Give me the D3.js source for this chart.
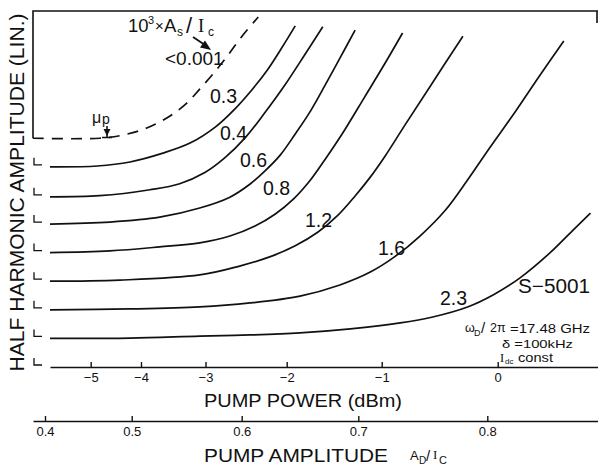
<!DOCTYPE html>
<html>
<head>
<meta charset="utf-8">
<script src="https://cdn.jsdelivr.net/npm/d3@7"></script>
<style>
  body { margin: 0; background: #fff; }
  svg { display: block; font-family: "Liberation Sans", Arial, Helvetica, sans-serif; }
</style>
</head>
<body>
<svg id="chart" width="598" height="471"></svg>
<script>
// --- data ---
const powerTicks = [-5, -4, -3, -2, -1, 0];              // dBm
const amplitudeTicks = [0.4, 0.5, 0.6, 0.7, 0.8];        // A_D / I_C
const curveNames = ["<0.001", "0.3", "0.4", "0.6", "0.8", "1.2", "1.6", "2.3"];
const curveLevels = [8, 7, 5.95, 5, 4, 3, 2, 1];         // zero line of each trace (stacked, lin. units)

// [pump power dBm, half harmonic amplitude above its own zero]
const seriesBelow0001 = [[-6.15, 0], [-4.82, 0], [-4.36, 0.11], [-3.91, 0.36], [-3.55, 0.78], [-3.29, 1.23], [-3.09, 1.72], [-2.91, 2.24], [-2.74, 2.84], [-2.55, 3.57], [-2.35, 4.24]];
const series03 = [[-5.81, 0], [-4.87, 0.03], [-4.22, 0.17], [-3.66, 0.48], [-3.24, 0.83], [-2.88, 1.39], [-2.64, 2.02], [-2.43, 2.69], [-2.24, 3.38], [-2.07, 4.12], [-1.91, 4.93]];
const series04 = [[-5.81, 0], [-4.82, 0.04], [-3.86, 0.25], [-3.40, 0.46], [-3.01, 0.85], [-2.76, 1.37], [-2.51, 2.07], [-2.27, 2.94], [-2.02, 3.92], [-1.81, 4.97], [-1.62, 5.95]];
const series06 = [[-5.81, 0], [-4.62, 0.07], [-3.71, 0.24], [-3.09, 0.56], [-2.70, 0.94], [-2.45, 1.40], [-2.27, 1.85], [-2.08, 2.41], [-1.91, 3.15], [-1.75, 3.95], [-1.60, 4.83], [-1.44, 5.80], [-1.28, 6.78]];
const series08 = [[-5.81, 0], [-4.62, 0.06], [-3.71, 0.20], [-3.09, 0.34], [-2.70, 0.58], [-2.39, 0.93], [-2.14, 1.35], [-1.93, 1.87], [-1.75, 2.54], [-1.60, 3.24], [-1.39, 4.29], [-1.18, 5.44], [-0.97, 6.63], [-0.82, 7.68]];
const series12 = [[-5.81, 0], [-4.42, 0.04], [-3.09, 0.22], [-2.58, 0.53], [-2.21, 0.85], [-1.91, 1.24], [-1.67, 1.72], [-1.46, 2.31], [-1.28, 2.98], [-1.12, 3.64], [-0.97, 4.38], [-0.80, 5.46], [-0.58, 6.83], [-0.30, 8.57]];
const series16 = [[-5.81, 0], [-4.22, 0.03], [-3.09, 0.10], [-2.45, 0.24], [-1.86, 0.48], [-1.44, 0.87], [-1.12, 1.32], [-0.89, 1.85], [-0.67, 2.58], [-0.45, 3.49], [-0.26, 4.54], [-0.07, 5.66], [0.15, 6.92], [0.36, 8.18], [0.57, 9.40]];
const series23 = [[-5.81, 0], [-4.22, 0.01], [-3.09, 0.08], [-2.45, 0.12], [-1.86, 0.19], [-1.33, 0.33], [-0.84, 0.54], [-0.56, 0.75], [-0.26, 1.10], [-0.04, 1.52], [0.19, 2.11], [0.45, 2.99], [0.65, 3.79], [0.80, 4.38]];

const allSeries = [seriesBelow0001, series03, series04, series06, series08, series12, series16, series23];

// --- scales (the power axis of the original is not linear, so piecewise) ---
const svg = d3.select("#chart");
const x = d3.scaleLinear()
  .domain([-5.81, -5, -4, -3, -2, -1, 0, 0.865])
  .range([50, 90.7, 141, 205.5, 286.7, 381.7, 497.7, 598]);
const xAmp = d3.scaleLinear()
  .domain([0.386, 0.4, 0.5, 0.6, 0.7, 0.8, 0.886])
  .range([33, 45, 131.7, 241.7, 358.3, 487.3, 598]);
const y = d3.scaleLinear().domain([0, 12.45]).range([367, 11]);

const ink = "#111";

// frame: top line, left side down to the dashed trace, small stub at the right
svg.append("path")
  .attr("d", `M33,${y(8)}V${y(12.45)}H598M597,${y(12.45)}v12`)
  .attr("fill", "none").attr("stroke", ink).attr("stroke-width", 1.6);

// L-shaped zero markers on the left
svg.append("g").selectAll("path")
  .data(curveLevels.slice(1).concat([0]))
  .join("path")
  .attr("d", d => `M34,${y(d) - 9}V${y(d) - 2}H42`)
  .attr("fill", "none").attr("stroke", ink).attr("stroke-width", 1.3);

// traces
const line = d3.line().curve(d3.curveCatmullRom.alpha(0.5));
svg.append("g").selectAll("path")
  .data(allSeries)
  .join("path")
  .attr("d", (s, i) => line(s.map(p => [x(p[0]), y(curveLevels[i] + p[1])])))
  .attr("fill", "none")
  .attr("stroke", ink)
  .attr("stroke-width", 1.7)
  .attr("stroke-dasharray", (s, i) => i === 0 ? "11,8" : null);

// --- pump power axis ---
const powerAxis = d3.axisBottom(x)
  .tickValues(powerTicks)
  .tickSize(-5).tickSizeOuter(0).tickPadding(6)
  .tickFormat(d => d < 0 ? "\u2212" + Math.abs(d) : d);
const gp = svg.append("g").attr("transform", `translate(0,${y(0)})`).call(powerAxis);
gp.select(".domain").attr("stroke", ink).attr("stroke-width", 1.6);
gp.selectAll(".tick line").attr("stroke", ink).attr("stroke-width", 1.4);
gp.selectAll(".tick text").attr("fill", ink).attr("font-size", 13).attr("font-family", null);

svg.append("text")
  .attr("x", 204).attr("y", 407)
  .attr("font-size", 19).attr("fill", ink)
  .attr("textLength", 198).attr("lengthAdjust", "spacingAndGlyphs")
  .text("PUMP  POWER (dBm)");

// --- pump amplitude axis ---
const ampAxis = d3.axisBottom(xAmp)
  .tickValues(amplitudeTicks)
  .tickSize(-5).tickSizeOuter(0).tickPadding(6)
  .tickFormat(d3.format(".1f"));
const ga = svg.append("g").attr("transform", "translate(0,421)").call(ampAxis);
ga.select(".domain").attr("stroke", ink).attr("stroke-width", 1.6);
ga.selectAll(".tick line").attr("stroke", ink).attr("stroke-width", 1.4);
ga.selectAll(".tick text").attr("fill", ink).attr("font-size", 13).attr("font-family", null);

svg.append("text")
  .attr("x", 204).attr("y", 462)
  .attr("font-size", 19).attr("fill", ink)
  .attr("textLength", 184).attr("lengthAdjust", "spacingAndGlyphs")
  .text("PUMP  AMPLITUDE");

const adIc = svg.append("text").attr("fill", ink).attr("font-size", 13);
adIc.append("tspan").attr("x", 410).attr("y", 460).text("A");
adIc.append("tspan").attr("x", 419).attr("y", 464).attr("font-size", 10).text("D");
adIc.append("tspan").attr("x", 426).attr("y", 461).attr("font-size", 15).text("/");
adIc.append("tspan").attr("x", 433).attr("y", 459).attr("font-family", "Liberation Serif, serif").text("I");
adIc.append("tspan").attr("x", 439).attr("y", 464).attr("font-size", 11).text("C");

// --- y title ---
svg.append("text")
  .attr("transform", "translate(24,192.5) rotate(-90)")
  .attr("text-anchor", "middle")
  .attr("font-size", 21).attr("fill", ink)
  .attr("textLength", 358).attr("lengthAdjust", "spacingAndGlyphs")
  .text("HALF HARMONIC AMPLITUDE (LIN.)");

// --- curve labels ---
const labelSpots = [[165, 65], [210, 103], [220, 140], [240, 167], [263, 195], [305, 227], [378, 255], [440, 305]];
svg.append("g").selectAll("text")
  .data(curveNames)
  .join("text")
  .attr("x", (d, i) => labelSpots[i][0])
  .attr("y", (d, i) => labelSpots[i][1])
  .attr("font-size", (d, i) => i === 0 ? 19 : 19.5)
  .attr("fill", ink)
  .text(d => d);

// 10^3 x A_s / I_c heading with its arrow
const head = svg.append("text").attr("fill", ink).attr("font-size", 18.5);
head.append("tspan").attr("x", 128).attr("y", 32).text("10");
head.append("tspan").attr("x", 148).attr("y", 24).attr("font-size", 11).text("3");
head.append("tspan").attr("x", 155).attr("y", 31).attr("font-size", 15).text("\u00d7");
head.append("tspan").attr("x", 164).attr("y", 32).text("A");
head.append("tspan").attr("x", 177).attr("y", 36).attr("font-size", 12).text("s");
head.append("tspan").attr("x", 186).attr("y", 33).attr("font-size", 22).text("/");
head.append("tspan").attr("x", 198).attr("y", 32).attr("font-family", "Liberation Serif, serif").text("I");
head.append("tspan").attr("x", 208).attr("y", 36).attr("font-size", 12).text("c");

svg.append("line").attr("x1", 193).attr("y1", 37).attr("x2", 205).attr("y2", 45)
  .attr("stroke", ink).attr("stroke-width", 1.7);
svg.append("path").attr("d", "M211,50L200,47.5L205,40.5Z").attr("fill", ink);

// mu_p marker
const mu = svg.append("text").attr("fill", ink).attr("font-size", 16);
mu.append("tspan").attr("x", 92).attr("y", 123).text("\u03bc");
mu.append("tspan").attr("x", 102).attr("y", 124).attr("font-size", 14).text("p");
svg.append("path").attr("d", "M107,126V137M102,137.5H112")
  .attr("fill", "none").attr("stroke", ink).attr("stroke-width", 1.6);
svg.append("path").attr("d", "M103.5,129H110.5L107,136Z").attr("fill", ink);

// sample and run conditions
svg.append("text").attr("x", 518).attr("y", 293).attr("font-size", 20).attr("fill", ink)
  .attr("textLength", 72).attr("lengthAdjust", "spacingAndGlyphs").text("S\u22125001");

const omega = svg.append("text").attr("fill", ink).attr("font-size", 12.5);
omega.append("tspan").attr("x", 465).attr("y", 332).text("\u03c9");
omega.append("tspan").attr("x", 474).attr("y", 335.5).attr("font-size", 9).text("D");
omega.append("tspan").attr("x", 481).attr("y", 333).attr("font-size", 15).text("/");
omega.append("tspan").attr("x", 490).attr("y", 332).text("2\u03c0");
svg.append("text").attr("x", 510).attr("y", 333).attr("font-size", 12.5).attr("fill", ink)
  .attr("textLength", 80).attr("lengthAdjust", "spacingAndGlyphs").text("=17.48 GHz");

svg.append("text").attr("x", 502).attr("y", 347.5).attr("font-size", 11.5).attr("fill", ink)
  .attr("textLength", 71).attr("lengthAdjust", "spacingAndGlyphs").text("\u03b4 =100kHz");

const idc = svg.append("text").attr("fill", ink).attr("font-size", 12.5);
idc.append("tspan").attr("x", 500).attr("y", 362).attr("font-family", "Liberation Serif, serif").text("I");
idc.append("tspan").attr("x", 505).attr("y", 364).attr("font-size", 8).text("dc");
svg.append("text").attr("x", 518).attr("y", 362).attr("font-size", 12).attr("fill", ink)
  .attr("textLength", 35).attr("lengthAdjust", "spacingAndGlyphs").text("const");
</script>
</body>
</html>
